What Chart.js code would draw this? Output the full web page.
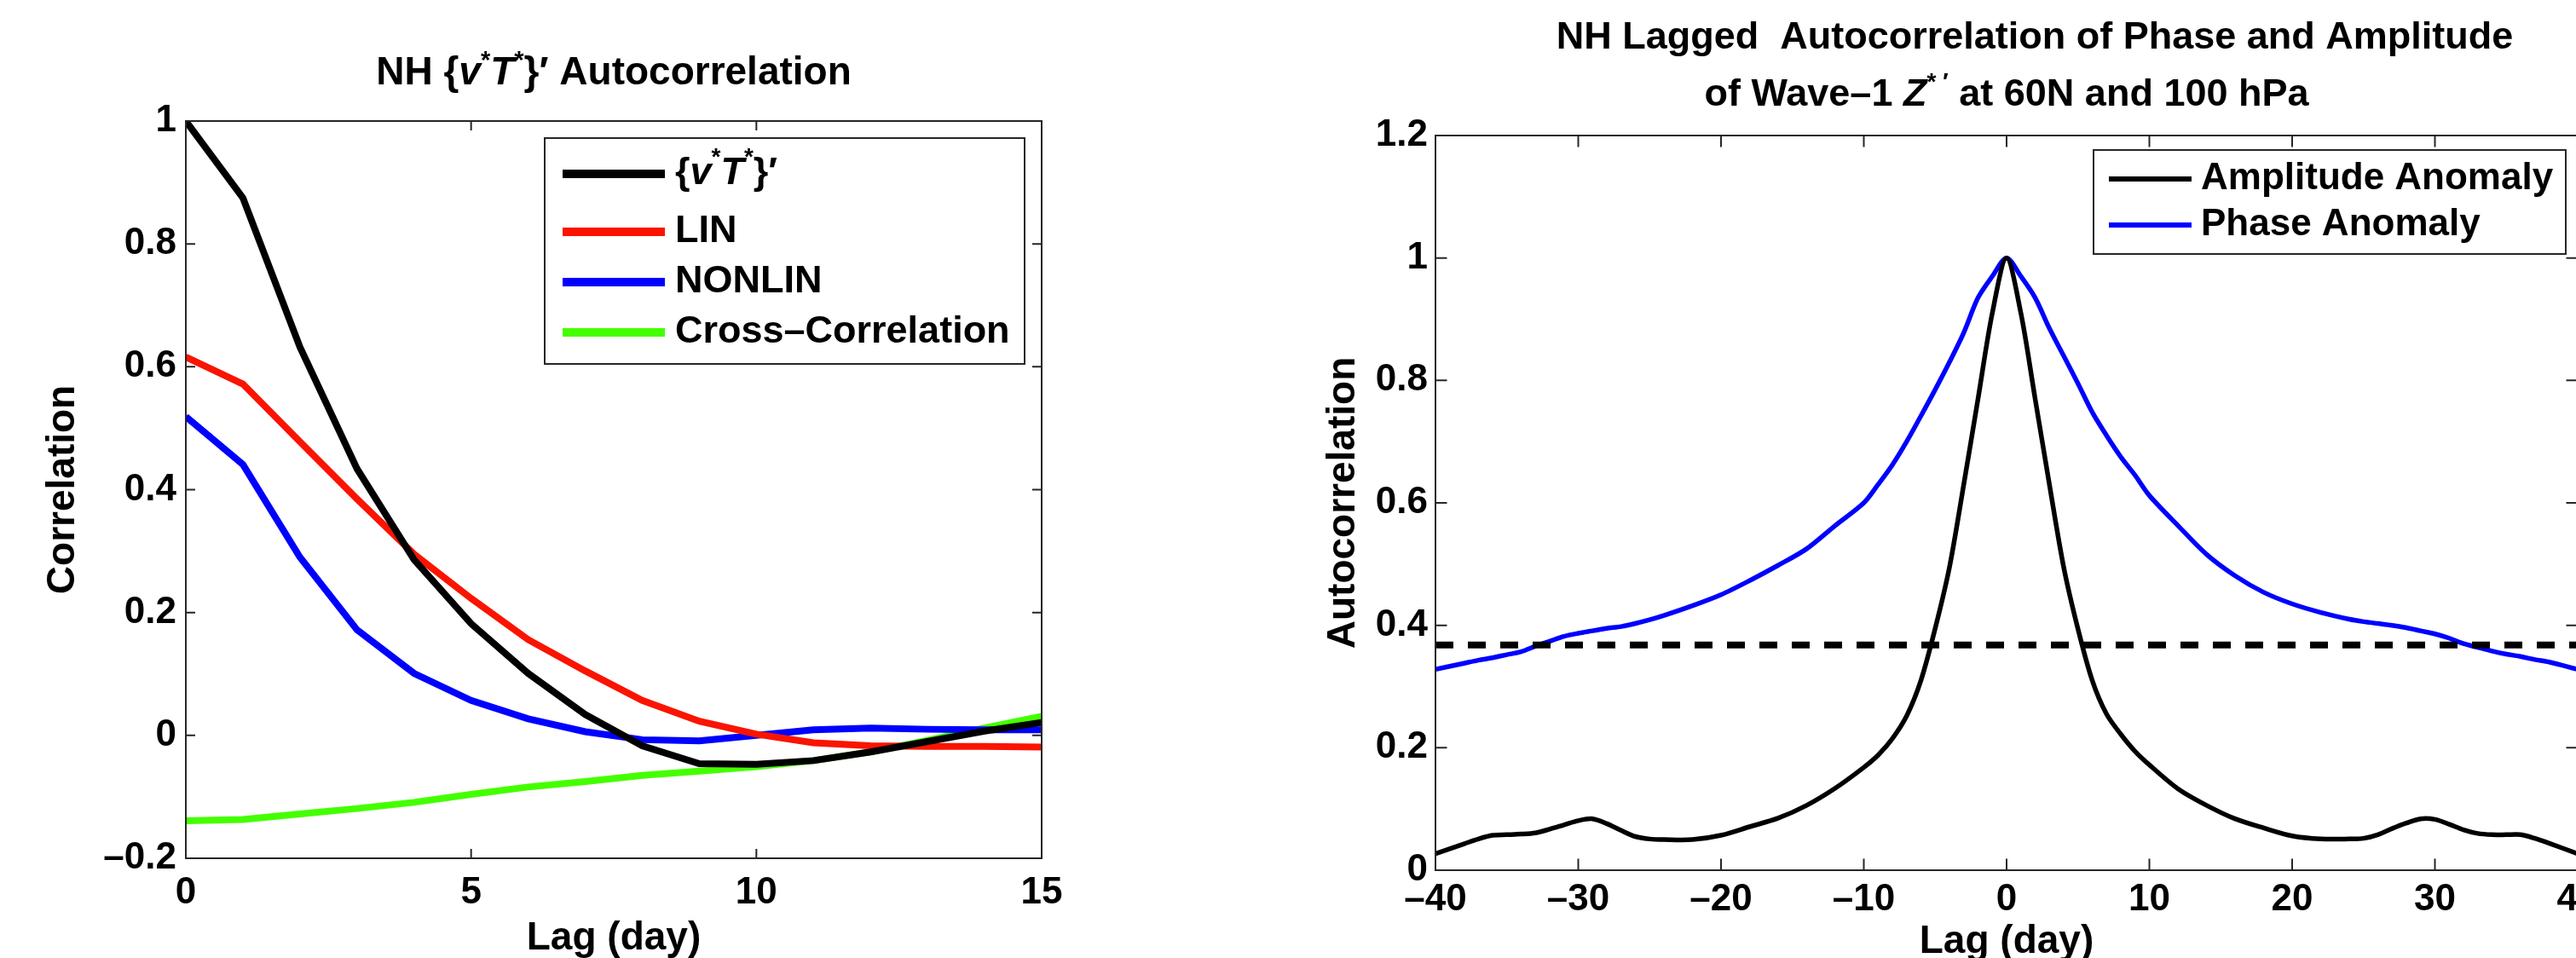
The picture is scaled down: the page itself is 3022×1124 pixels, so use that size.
<!DOCTYPE html>
<html>
<head>
<meta charset="utf-8">
<title>NH lagged autocorrelations</title>
<script src="https://cdn.jsdelivr.net/npm/chart.js@4.4.1/dist/chart.umd.min.js"></script>
<style>
  html, body { margin: 0; padding: 0; background: #fff; overflow: hidden; }
  #wrap { position: relative; width: 3022px; height: 1124px; overflow: hidden; background: #fff; }
  canvas { position: absolute; top: 0; }
  #chartFlux { left: 0; width: 1500px; height: 1124px; }
  #chartWave { left: 1500px; width: 1600px; height: 1124px; }
</style>
</head>
<body>
<div id="wrap">
  <canvas id="chartFlux" width="1500" height="1124"></canvas>
  <canvas id="chartWave" width="1600" height="1124"></canvas>
</div>
<script>
// ---- left panel: {v*T*}' autocorrelation ----
const lagsFlux = [0, 1, 2, 3, 4, 5, 6, 7, 8, 9, 10, 11, 12, 13, 14, 15];
const vtAuto   = [1.0, 0.875, 0.632, 0.434, 0.286, 0.182, 0.101, 0.034, -0.017, -0.046, -0.047, -0.041, -0.027, -0.010, 0.007, 0.021];
const linAuto  = [0.616, 0.572, 0.478, 0.385, 0.295, 0.223, 0.156, 0.105, 0.057, 0.023, 0.002, -0.012, -0.017, -0.018, -0.018, -0.019];
const nonlinAuto = [0.519, 0.441, 0.290, 0.172, 0.101, 0.057, 0.027, 0.006, -0.007, -0.009, 0.000, 0.009, 0.012, 0.010, 0.009, 0.009];
const crossCorr  = [-0.139, -0.137, -0.128, -0.119, -0.109, -0.096, -0.084, -0.075, -0.065, -0.058, -0.051, -0.041, -0.027, -0.008, 0.012, 0.031];
const fluxNames  = ['{|i:v|s:*|i:T|s:*|}′', 'LIN', 'NONLIN', 'Cross–Correlation'];
const fluxColors = ['#000000', '#fa1400', '#0000ff', '#44ff00'];
const fluxTicksX = [0, 5, 10, 15];
const fluxTicksY = [-0.2, 0, 0.2, 0.4, 0.6, 0.8, 1];

// ---- right panel: wave-1 Z*' phase / amplitude ----
const lagsWave = [-40, -38, -37, -36, -35, -34, -33, -32, -31, -30, -29, -28, -27, -26, -25, -24,
  -22, -20, -18, -16, -14, -12, -10, -9, -8, -7, -6, -5, -4, -3, -2, -1, 0,
  1, 2, 3, 4, 5, 6, 7, 8, 9, 10, 12, 14, 16, 18, 20, 22, 24,
  25, 26, 27, 28, 29, 30, 31, 32, 33, 34, 35, 36, 37, 38, 40];
const amplitudeAuto = [0.027, 0.043, 0.051, 0.057, 0.058, 0.059, 0.061, 0.067, 0.074, 0.081, 0.084, 0.076, 0.065, 0.055, 0.051, 0.050,
  0.050, 0.057, 0.071, 0.085, 0.106, 0.134, 0.168, 0.188, 0.215, 0.252, 0.310, 0.395, 0.495, 0.630, 0.770, 0.910, 1.000,
  0.910, 0.770, 0.630, 0.495, 0.394, 0.310, 0.255, 0.222, 0.194, 0.172, 0.133, 0.106, 0.084, 0.069, 0.056, 0.051, 0.051,
  0.052, 0.058, 0.068, 0.077, 0.084, 0.083, 0.075, 0.066, 0.060, 0.058, 0.058, 0.058, 0.052, 0.044, 0.027];
const phaseAuto = [0.328, 0.338, 0.343, 0.347, 0.352, 0.357, 0.366, 0.374, 0.382, 0.387, 0.391, 0.395, 0.398, 0.403, 0.409, 0.416,
  0.432, 0.450, 0.473, 0.498, 0.525, 0.563, 0.600, 0.630, 0.662, 0.700, 0.742, 0.785, 0.830, 0.878, 0.935, 0.970, 1.000,
  0.970, 0.935, 0.885, 0.840, 0.795, 0.748, 0.710, 0.675, 0.645, 0.612, 0.563, 0.516, 0.481, 0.454, 0.435, 0.421, 0.410,
  0.406, 0.403, 0.400, 0.396, 0.391, 0.386, 0.379, 0.370, 0.364, 0.358, 0.353, 0.349, 0.344, 0.340, 0.328];
const efoldLags  = [-40, 40];
const efoldLevel = [0.368, 0.368];
const waveNames  = ['Amplitude Anomaly', 'Phase Anomaly'];
const waveColors = ['#000000', '#0000ff'];
const waveTicksX = [-40, -30, -20, -10, 0, 10, 20, 30, 40];
const waveTicksY = [0, 0.2, 0.4, 0.6, 0.8, 1, 1.2];

const FONT = '"Liberation Sans", Arial, Helvetica, sans-serif';
Chart.defaults.font.family = FONT;
Chart.defaults.color = '#000';

const pts = (xs, ys) => xs.map((x, i) => ({ x, y: ys[i] }));
const fmtTick = v => (v < 0 ? '–' : '') + String(Math.abs(Math.round(v * 10) / 10));

// tiny markup: "|" splits parts, "i:" italic, "s:" superscript
function richParts(str) {
  return str.split('|').filter(s => s.length).map(s => {
    if (s.startsWith('i:')) return { t: s.slice(2), it: true };
    if (s.startsWith('s:')) return { t: s.slice(2), sup: true };
    return { t: s };
  });
}
function drawRich(ctx, str, x, y, size, align) {
  const parts = richParts(str);
  const fontOf = p => (p.it ? 'italic ' : '') + 'bold ' + Math.round(p.sup ? size * 0.62 : size) + 'px ' + FONT;
  let total = 0;
  parts.forEach(p => { ctx.font = fontOf(p); p.w = ctx.measureText(p.t).width; total += p.w; });
  let cx = align === 'center' ? x - total / 2 : x;
  ctx.textAlign = 'left';
  parts.forEach(p => {
    ctx.font = fontOf(p);
    ctx.fillText(p.t, cx, p.sup ? y - size * 0.42 : y);
    cx += p.w;
  });
}

// full box with inward tick marks, like matlab axes
const matlabBox = {
  id: 'matlabBox',
  afterDatasetsDraw(chart, args, o) {
    const { ctx, chartArea: a, scales: { x, y } } = chart;
    ctx.save();
    ctx.strokeStyle = '#262626';
    ctx.lineWidth = 2;
    ctx.setLineDash([]);
    ctx.beginPath();
    x.ticks.forEach(t => {
      const px = x.getPixelForValue(t.value);
      ctx.moveTo(px, a.bottom); ctx.lineTo(px, a.bottom - o.tick);
      ctx.moveTo(px, a.top); ctx.lineTo(px, a.top + o.tick);
    });
    y.ticks.forEach(t => {
      const py = y.getPixelForValue(t.value);
      ctx.moveTo(a.left, py); ctx.lineTo(a.left + o.tick, py);
      ctx.moveTo(a.right, py); ctx.lineTo(a.right - o.tick, py);
    });
    ctx.stroke();
    ctx.strokeRect(a.left, a.top, a.right - a.left, a.bottom - a.top);
    ctx.restore();
  }
};

const boxLegend = {
  id: 'boxLegend',
  afterDraw(chart, args, o) {
    const ctx = chart.ctx;
    ctx.save();
    ctx.fillStyle = '#fff';
    ctx.fillRect(o.left, o.top, o.right - o.left, o.bottom - o.top);
    ctx.strokeStyle = '#262626';
    ctx.lineWidth = 2;
    ctx.strokeRect(o.left, o.top, o.right - o.left, o.bottom - o.top);
    chart.data.datasets.filter(d => !d.hideInLegend).forEach((d, i) => {
      const y = o.rows[i];
      ctx.strokeStyle = d.borderColor;
      ctx.lineWidth = o.sampleWidth;
      ctx.beginPath();
      ctx.moveTo(o.sampleX[0], y);
      ctx.lineTo(o.sampleX[1], y);
      ctx.stroke();
      ctx.fillStyle = '#000';
      ctx.textBaseline = 'middle';
      drawRich(ctx, d.label, o.textX, y, o.fontSize, 'left');
    });
    ctx.restore();
  }
};

const figTitle = {
  id: 'figTitle',
  afterDraw(chart, args, o) {
    const ctx = chart.ctx;
    ctx.save();
    ctx.fillStyle = '#000';
    ctx.textBaseline = 'alphabetic';
    o.lines.forEach(l => drawRich(ctx, l.text, l.x, l.y, o.fontSize, 'center'));
    ctx.restore();
  }
};

function axisOpts(min, max, ticks, fit, title) {
  return {
    type: 'linear', min, max,
    afterBuildTicks: s => { s.ticks = ticks.map(v => ({ value: v })); },
    afterFit: fit,
    grid: { display: false, drawTicks: false, tickLength: 0 },
    border: { display: false },
    ticks: { callback: fmtTick, font: { size: 44, weight: 'bold', lineHeight: 1 }, color: '#000', maxRotation: 0 },
    title
  };
}

// left chart
const fluxSeries = [vtAuto, linAuto, nonlinAuto, crossCorr];
new Chart(document.getElementById('chartFlux'), {
  type: 'line',
  data: {
    datasets: fluxSeries.map((s, i) => ({
      label: fluxNames[i], data: pts(lagsFlux, s), borderColor: fluxColors[i],
      borderWidth: 8, pointRadius: 0, tension: 0, fill: false
    }))
  },
  options: {
    responsive: false, animation: false, devicePixelRatio: 1,
    layout: { padding: { left: 0, right: 278, top: 142, bottom: 0 } },
    scales: {
      x: Object.assign(axisOpts(0, 15, fluxTicksX, s => { s.height = 117; },
        { display: true, text: 'Lag (day)', font: { size: 46, weight: 'bold', lineHeight: 1 }, padding: { top: 0, bottom: 0 }, color: '#000' }),
        { ticks: { callback: fmtTick, font: { size: 44, weight: 'bold', lineHeight: 1 }, color: '#000', padding: 19, maxRotation: 0 } }),
      y: Object.assign(axisOpts(-0.2, 1, fluxTicksY, s => { s.width = 218; },
        { display: true, text: 'Correlation', font: { size: 46, weight: 'bold', lineHeight: 1 }, padding: { top: 51, bottom: 0 }, color: '#000' }),
        { ticks: { callback: fmtTick, font: { size: 44, weight: 'bold', lineHeight: 1 }, color: '#000', padding: 11 } })
    },
    plugins: {
      legend: { display: false }, tooltip: { enabled: false }, title: { display: false },
      matlabBox: { tick: 11 },
      boxLegend: { left: 639, top: 162, right: 1202, bottom: 427, rows: [204, 272, 331, 390],
        sampleX: [660, 780], textX: 792, sampleWidth: 10, fontSize: 45 },
      figTitle: { fontSize: 46, lines: [{ text: 'NH {|i:v|s:*|i:T|s:*|}′ Autocorrelation', x: 720, y: 99 }] }
    }
  },
  plugins: [matlabBox, boxLegend, figTitle]
});

// right chart (its right edge runs past the picture, as in the source figure)
const waveSeries = [amplitudeAuto, phaseAuto];
const waveSets = waveSeries.map((s, i) => ({
  label: waveNames[i], data: pts(lagsWave, s), borderColor: waveColors[i],
  borderWidth: 5.5, pointRadius: 0, tension: 0.3, fill: false
}));
waveSets.push({
  label: 'e-folding', hideInLegend: true, order: -1, data: pts(efoldLags, efoldLevel),
  borderColor: '#000', borderWidth: 8, borderDash: [21, 17], borderCapStyle: 'butt', pointRadius: 0, tension: 0
});
new Chart(document.getElementById('chartWave'), {
  type: 'line',
  data: { datasets: waveSets },
  options: {
    responsive: false, animation: false, devicePixelRatio: 1,
    layout: { padding: { left: 0, right: 76, top: 159, bottom: 0 } },
    scales: {
      x: Object.assign(axisOpts(-40, 40, waveTicksX, s => { s.height = 103; },
        { display: true, text: 'Lag (day)', font: { size: 46, weight: 'bold', lineHeight: 0.83 }, padding: { top: 0, bottom: 0 }, color: '#000' }),
        { ticks: { callback: fmtTick, font: { size: 44, weight: 'bold', lineHeight: 1 }, color: '#000', padding: 13, maxRotation: 0 } }),
      y: Object.assign(axisOpts(0, 1.2, waveTicksY, s => { s.width = 184; },
        { display: true, text: 'Autocorrelation', font: { size: 46, weight: 'bold', lineHeight: 1 }, padding: { top: 53, bottom: 0 }, color: '#000' }),
        { ticks: { callback: fmtTick, font: { size: 44, weight: 'bold', lineHeight: 1 }, color: '#000', padding: 9 } })
    },
    plugins: {
      legend: { display: false }, tooltip: { enabled: false }, title: { display: false },
      matlabBox: { tick: 13.5 },
      boxLegend: { left: 956, top: 176, right: 1510, bottom: 298, rows: [210, 264],
        sampleX: [974, 1071], textX: 1082, sampleWidth: 6, fontSize: 44 },
      figTitle: { fontSize: 45, lines: [
        { text: 'NH Lagged  Autocorrelation of Phase and Amplitude', x: 887, y: 57 },
        { text: 'of Wave–1 |i:Z|s:* ′| at 60N and 100 hPa', x: 854, y: 124 }
      ] }
    }
  },
  plugins: [matlabBox, boxLegend, figTitle]
});
</script>
</body>
</html>
